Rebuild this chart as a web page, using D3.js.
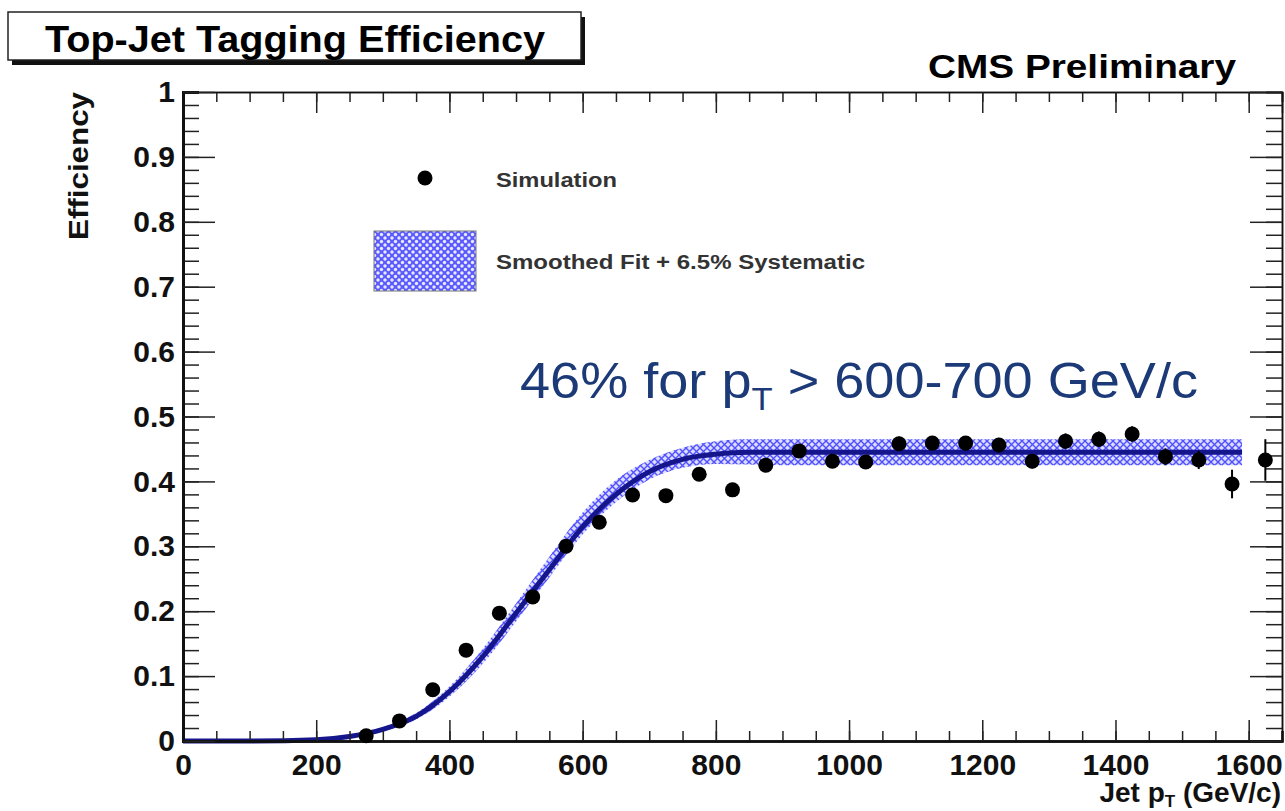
<!doctype html>
<html lang="en">
<head>
<meta charset="utf-8">
<title>Top-Jet Tagging Efficiency</title>
<style>
  * { margin: 0; padding: 0; }
  body { background: #fff; overflow: hidden; }
  svg { display: block; font-family: "Liberation Sans", Arial, sans-serif; }
</style>
<script src="https://cdn.jsdelivr.net/npm/d3@7"></script>
</head>
<body>
<svg width="1285" height="811"></svg>
<script>
// simulation points (bin centres in GeV/c)
const binCenters = [275, 325, 375, 425, 475, 525, 575, 625, 675, 725, 775, 825, 875, 925,
                    975, 1025, 1075, 1125, 1175, 1225, 1275, 1325, 1375, 1425, 1475, 1525, 1575, 1625];
const efficiency = [0.008, 0.031, 0.079, 0.140, 0.197, 0.222, 0.300, 0.337, 0.379, 0.378, 0.411, 0.387, 0.425, 0.447,
                    0.431, 0.430, 0.458, 0.459, 0.459, 0.456, 0.431, 0.462, 0.465, 0.473, 0.438, 0.433, 0.396, 0.433];
const effError   = [0.004, 0.005, 0.006, 0.007, 0.008, 0.008, 0.009, 0.009, 0.009, 0.009, 0.010, 0.010, 0.010, 0.010,
                    0.010, 0.010, 0.011, 0.011, 0.011, 0.011, 0.011, 0.012, 0.012, 0.012, 0.013, 0.014, 0.022, 0.032];

// smoothed fit and systematic band
const fitPt    = [0, 100, 200, 250, 300, 350, 400, 450, 500, 550, 600, 650, 700, 750, 800, 850, 900, 1590];
const fitEff   = [0, 0, 0.002, 0.007, 0.018, 0.038, 0.076, 0.130, 0.197, 0.264, 0.330, 0.380, 0.415, 0.434, 0.442, 0.445, 0.445, 0.445];
const bandHigh = [0, 0, 0.003, 0.009, 0.021, 0.043, 0.084, 0.142, 0.212, 0.284, 0.352, 0.402, 0.433, 0.452, 0.462, 0.465, 0.465, 0.465];
const bandLow  = [0, 0, 0.001, 0.005, 0.015, 0.033, 0.068, 0.119, 0.184, 0.252, 0.318, 0.368, 0.403, 0.421, 0.427, 0.426, 0.425, 0.425];

const xMajor = [0, 200, 400, 600, 800, 1000, 1200, 1400, 1600];
const xMinor = d3.range(0, 1651, 50);
const yMajor = [0, 0.1, 0.2, 0.3, 0.4, 0.5, 0.6, 0.7, 0.8, 0.9, 1];
const yMinor = d3.range(0, 51).map(i => i / 50);

const svg = d3.select("svg");
const x = d3.scaleLinear().domain([0, 1650]).range([183, 1282]);
const y = d3.scaleLinear().domain([0, 1]).range([741, 92]);

// hatch patterns: light one for the band, dense one for the legend box
const defs = svg.append("defs");
const pat = defs.append("pattern").attr("id", "hatch")
    .attr("patternUnits", "userSpaceOnUse").attr("width", 7).attr("height", 7);
pat.append("rect").attr("width", 7).attr("height", 7).attr("fill", "#dcdcff");
pat.append("path").attr("d", "M0,0L7,7M7,0L0,7").attr("stroke", "#5050ff").attr("stroke-width", 1.4);
const pat2 = defs.append("pattern").attr("id", "dots")
    .attr("patternUnits", "userSpaceOnUse").attr("width", 7).attr("height", 7);
pat2.append("rect").attr("width", 7).attr("height", 7).attr("fill", "#5a5aff");
pat2.append("circle").attr("cx", 3.5).attr("cy", 3.5).attr("r", 1.7).attr("fill", "#e8e8ff");
pat2.append("circle").attr("cx", 0).attr("cy", 0).attr("r", 1.7).attr("fill", "#e8e8ff");
pat2.append("circle").attr("cx", 7).attr("cy", 0).attr("r", 1.7).attr("fill", "#e8e8ff");
pat2.append("circle").attr("cx", 0).attr("cy", 7).attr("r", 1.7).attr("fill", "#e8e8ff");
pat2.append("circle").attr("cx", 7).attr("cy", 7).attr("r", 1.7).attr("fill", "#e8e8ff");

// title box
svg.append("rect").attr("x", 12).attr("y", 17).attr("width", 573).attr("height", 48).attr("fill", "#111");
svg.append("rect").attr("x", 8).attr("y", 12).attr("width", 573).attr("height", 48)
    .attr("fill", "#fff").attr("stroke", "#222").attr("stroke-width", 1.5);
svg.append("text").attr("x", 45).attr("y", 52).attr("font-size", 37).attr("font-weight", "bold")
    .attr("textLength", 500).attr("lengthAdjust", "spacingAndGlyphs")
    .text("Top-Jet Tagging Efficiency");

svg.append("text").attr("x", 1236).attr("y", 78).attr("text-anchor", "end")
    .attr("font-size", 33).attr("font-weight", "bold")
    .attr("textLength", 308).attr("lengthAdjust", "spacingAndGlyphs").text("CMS Preliminary");

// systematic band and fit
const band = d3.area().x((d, i) => x(fitPt[i])).y0((d, i) => y(bandLow[i])).y1((d, i) => y(bandHigh[i]))
    .curve(d3.curveMonotoneX);
svg.append("path").attr("d", band(fitPt)).attr("fill", "url(#hatch)");

const fitLine = d3.line().x((d, i) => x(fitPt[i])).y((d, i) => y(fitEff[i])).curve(d3.curveMonotoneX);
svg.append("path").attr("d", fitLine(fitPt)).attr("fill", "none")
    .attr("stroke", "#15158c").attr("stroke-width", 5);

// axes (ROOT style: ticks pointing inward)
const fmtY = d => (d === 0 || d === 1) ? String(d) : d.toFixed(1);
function styleAxis(g, width) {
  g.select(".domain").attr("stroke", "#111").attr("stroke-width", width);
  g.selectAll(".tick line").attr("stroke", "#222").attr("stroke-width", 1.5);
  g.selectAll("text").attr("font-family", "Liberation Sans, Arial, sans-serif")
    .attr("font-size", 30).attr("font-weight", "bold").attr("fill", "#111");
}
svg.append("g").attr("transform", "translate(0,741)")
  .call(d3.axisBottom(x).tickValues(xMinor).tickSize(-10).tickFormat(""))
  .call(g => styleAxis(g, 2.5));
svg.append("g").attr("transform", "translate(0,741)")
  .call(d3.axisBottom(x).tickValues(xMajor).tickSizeInner(-21).tickSizeOuter(0).tickPadding(13).tickFormat(d3.format("d")))
  .call(g => styleAxis(g, 2.5));
svg.append("g").attr("transform", "translate(0,92)")
  .call(d3.axisTop(x).tickValues(xMinor).tickSize(-10).tickFormat(""))
  .call(g => styleAxis(g, 1.5));
svg.append("g").attr("transform", "translate(0,92)")
  .call(d3.axisTop(x).tickValues(xMajor).tickSize(-21).tickFormat(""))
  .call(g => styleAxis(g, 1.5));

svg.append("g").attr("transform", "translate(183,0)")
  .call(d3.axisLeft(y).tickValues(yMinor).tickSize(-16).tickFormat(""))
  .call(g => styleAxis(g, 3));
svg.append("g").attr("transform", "translate(183,0)")
  .call(d3.axisLeft(y).tickValues(yMajor).tickSizeInner(-32).tickSizeOuter(0).tickPadding(8).tickFormat(fmtY))
  .call(g => styleAxis(g, 3));
svg.append("g").attr("transform", "translate(1282,0)")
  .call(d3.axisRight(y).tickValues(yMinor).tickSize(-16).tickFormat(""))
  .call(g => styleAxis(g, 1.5));
svg.append("g").attr("transform", "translate(1282,0)")
  .call(d3.axisRight(y).tickValues(yMajor).tickSize(-32).tickFormat(""))
  .call(g => styleAxis(g, 1.5));

// axis titles
svg.append("text").attr("transform", "translate(88,92) rotate(-90)").attr("text-anchor", "end")
    .attr("font-size", 28).attr("font-weight", "bold").attr("fill", "#111")
    .attr("textLength", 148).attr("lengthAdjust", "spacingAndGlyphs").text("Efficiency");
const xt = svg.append("text").attr("x", 1281).attr("y", 802).attr("text-anchor", "end")
    .attr("font-size", 28).attr("font-weight", "bold").attr("fill", "#111");
xt.append("tspan").text("Jet p");
xt.append("tspan").attr("font-size", 17).attr("dy", 5).text("T");
xt.append("tspan").attr("dy", -5).text(" (GeV/c)");

// simulation points with error bars
const pts = svg.append("g");
pts.selectAll("line").data(binCenters).join("line")
  .attr("x1", d => x(d)).attr("x2", d => x(d))
  .attr("y1", (d, i) => y(efficiency[i] - effError[i]))
  .attr("y2", (d, i) => y(efficiency[i] + effError[i]))
  .attr("stroke", "#000").attr("stroke-width", 2);
pts.selectAll("circle").data(binCenters).join("circle")
  .attr("cx", d => x(d)).attr("cy", (d, i) => y(efficiency[i])).attr("r", 7.5).attr("fill", "#000");

// legend
svg.append("circle").attr("cx", 425).attr("cy", 178).attr("r", 7.5).attr("fill", "#000");
svg.append("text").attr("x", 496).attr("y", 187).attr("font-size", 20).attr("font-weight", "bold").attr("fill", "#333")
    .attr("textLength", 121).attr("lengthAdjust", "spacingAndGlyphs").text("Simulation");
svg.append("rect").attr("x", 374).attr("y", 231).attr("width", 102).attr("height", 60)
    .attr("fill", "url(#dots)").attr("stroke", "#777").attr("stroke-width", 1);
svg.append("text").attr("x", 496).attr("y", 269).attr("font-size", 20).attr("font-weight", "bold").attr("fill", "#333")
    .attr("textLength", 369).attr("lengthAdjust", "spacingAndGlyphs").text("Smoothed Fit + 6.5% Systematic");

// annotation
const ann = svg.append("text").attr("x", 520).attr("y", 398).attr("font-size", 50).attr("fill", "#1c3a78")
    .attr("textLength", 678).attr("lengthAdjust", "spacingAndGlyphs");
ann.append("tspan").text("46% for p");
ann.append("tspan").attr("font-size", 32).attr("dy", 12).text("T");
ann.append("tspan").attr("dy", -12).text(" > 600-700 GeV/c");
</script>
</body>
</html>
